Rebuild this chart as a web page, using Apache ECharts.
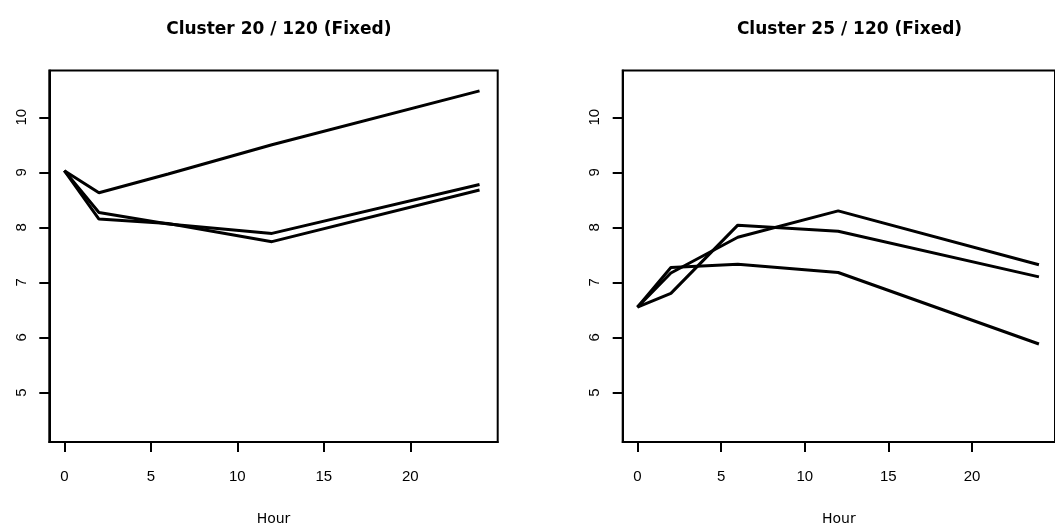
<!DOCTYPE html>
<html>
<head>
<meta charset="utf-8">
<script src="https://cdn.jsdelivr.net/npm/echarts@6/dist/echarts.min.js"></script>
<style>
  html, body { margin: 0; padding: 0; background: #fff; }
  #chart { width: 1055px; height: 531px; }
</style>
</head>
<body>
<div id="chart"></div>
<script>
// sampling times (hours)
const hours = [0, 2, 6, 12, 24]

// Cluster 20 / 120 (Fixed)
const left1 = [9.03, 8.63, 8.97, 9.5, 10.48]
const left2 = [9.03, 8.15, 8.07, 7.74, 8.68]
const left3 = [9.03, 8.27, 8.06, 7.89, 8.78]

// Cluster 25 / 120 (Fixed)
const right1 = [6.55, 6.8, 8.04, 7.93, 7.1]
const right2 = [6.55, 7.17, 7.82, 8.3, 7.32]
const right3 = [6.55, 7.27, 7.33, 7.18, 5.88]

const titles = ['Cluster 20 / 120 (Fixed)', 'Cluster 25 / 120 (Fixed)']
const xTicks = [0, 5, 10, 15, 20]
const yTicks = [5, 6, 7, 8, 9, 10]

const pair = ys => hours.map((h, i) => [h, ys[i]])

const tick = values => ({
  show: true,
  inside: false,
  length: 10,
  customValues: values,
  lineStyle: { color: '#000', width: 2 }
})

const xAxis = (idx, min, max) => ({
  type: 'value',
  gridIndex: idx,
  min: min,
  max: max,
  name: 'Hour',
  nameLocation: 'middle',
  nameGap: 70,
  nameTextStyle: { fontFamily: 'DejaVu Sans', fontSize: 14, color: '#000' },
  axisLine: { show: true, onZero: false, lineStyle: { color: '#000', width: 2 } },
  splitLine: { show: false },
  axisTick: tick(xTicks),
  axisLabel: { customValues: xTicks, margin: 27, fontFamily: 'Liberation Sans', fontSize: 15, color: '#000' }
})

const yAxis = idx => ({
  type: 'value',
  gridIndex: idx,
  min: 4.1,
  max: 10.85,
  axisLine: { show: true, onZero: false, lineStyle: { color: '#000', width: 2 } },
  splitLine: { show: false },
  axisTick: tick(yTicks),
  axisLabel: { customValues: yTicks, rotate: 90, margin: 20, fontFamily: 'Liberation Sans', fontSize: 15, color: '#000' }
})

const line = (idx, ys) => ({
  type: 'line',
  xAxisIndex: idx,
  yAxisIndex: idx,
  data: pair(ys),
  symbol: 'none',
  silent: true,
  animation: false,
  lineStyle: { color: '#000', width: 3 }
})

const chart = echarts.init(document.getElementById('chart'))
chart.setOption({
  backgroundColor: '#fff',
  animation: false,
  title: [
    { text: titles[0], left: 273.8, top: 16, textAlign: 'center',
      textStyle: { fontFamily: 'DejaVu Sans', fontWeight: 'bold', fontSize: 17, color: '#000' } },
    { text: titles[1], left: 844.5, top: 16, textAlign: 'center',
      textStyle: { fontFamily: 'DejaVu Sans', fontWeight: 'bold', fontSize: 17, color: '#000' } }
  ],
  grid: [
    { left: 49.3, top: 70.5, right: 557.3, bottom: 87.7, show: true, borderColor: '#000', borderWidth: 2 },
    { left: 622.7, top: 70.5, right: -8, bottom: 87.7, show: true, borderColor: '#000', borderWidth: 2 }
  ],
  xAxis: [xAxis(0, -0.87, 25.05), xAxis(1, -0.88, 24.96)],
  yAxis: [yAxis(0), yAxis(1)],
  series: [
    line(0, left1), line(0, left2), line(0, left3),
    line(1, right1), line(1, right2), line(1, right3)
  ]
})
</script>
</body>
</html>
